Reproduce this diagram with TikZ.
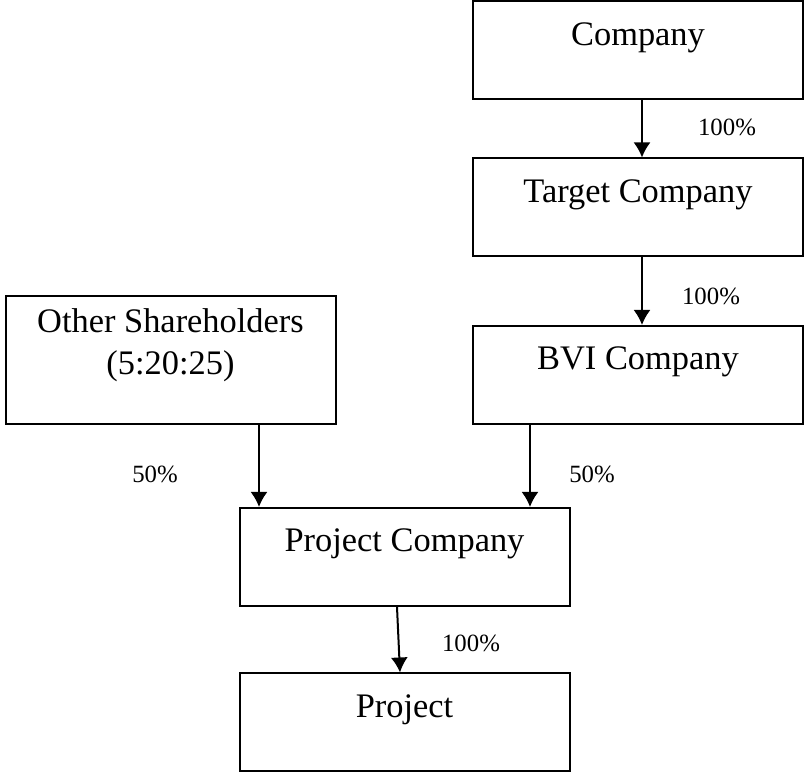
\documentclass[tikz,border=0pt]{standalone}
\usepackage{fontspec}
\setmainfont{Liberation Serif}
\usetikzlibrary{arrows.meta}

\tikzset{
  entity/.style={draw, line width=1pt, minimum width=165pt, inner sep=0pt,
    text height=22pt, text depth=27pt, font=\fontsize{17.2}{21}\selectfont},
  pct/.style={font=\fontsize{12.4}{15}\selectfont},
  own/.style={line width=1pt, -{Latex[length=7.5pt,width=8.5pt]}}
}

\begin{document}
\begin{tikzpicture}[x=0.5pt,y=-0.5pt]
\useasboundingbox (0,0) rectangle (805,774);
% holding chain
\node[entity] (company) at (638,50.5) {Company};
\node[entity] (target) at (638,207.5) {Target Company};
\node[entity] (bvi) at (638,375) {BVI Company};
\node[entity, align=center, text height=39.5pt, text depth=24.5pt] (othersh) at (170.5,360) {Other Shareholders\\(5:20:25)};
\node[entity] (pc) at (404.5,557) {Project Company};
\node[entity] (project) at (404.5,722.5) {Project};

\coordinate (col1) at (259,0);
\coordinate (col2) at (530,0);
\coordinate (col3) at (642,0);

\draw[own] (company.south -| col3) -- (target.north -| col3);
\draw[own] (target.south -| col3) -- (bvi.north -| col3);
\draw[own] (othersh.south -| col1) -- (pc.north -| col1);
\draw[own] (bvi.south -| col2) -- (pc.north -| col2);
\draw[own] ([xshift=-3.75pt]pc.south) -- ([xshift=-2.25pt]project.north);

% percentages
\node[pct] (p1) at (727,127) {100\%};
\node[pct] (p2) at (711,296) {100\%};
\node[pct] (p3) at (155,474) {50\%};
\node[pct] (p4) at (592,474) {50\%};
\node[pct] (p5) at (471,643) {100\%};
\end{tikzpicture}
\end{document}
